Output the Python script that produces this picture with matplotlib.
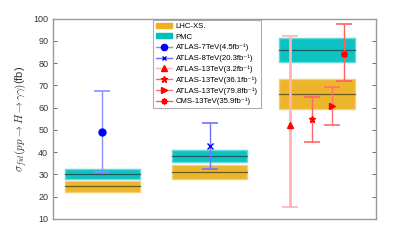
import matplotlib.pyplot as plt
from matplotlib.patches import Patch
from matplotlib.lines import Line2D

plt.rcParams['font.family'] = ['Liberation Sans', 'DejaVu Sans']
plt.rcParams['mathtext.fontset'] = 'cm'

# theory bands: (low, central, high) per energy group
groups = [1, 2, 3]
lhcxs_lo = [22.2, 28.0, 59.6]
lhcxs_mid = [24.7, 31.2, 66.3]
lhcxs_hi = [27.0, 34.2, 72.9]
pmc_lo = [28.0, 35.5, 80.7]
pmc_mid = [30.2, 38.4, 86.1]
pmc_hi = [32.4, 41.2, 91.5]

# measurements
labels = ['ATLAS-7TeV(4.5fb\u207b\u00b9)', 'ATLAS-8TeV(20.3fb\u207b\u00b9)',
          'ATLAS-13TeV(3.2fb\u207b\u00b9)', 'ATLAS-13TeV(36.1fb\u207b\u00b9)',
          'ATLAS-13TeV(79.8fb\u207b\u00b9)', 'CMS-13TeV(35.9fb\u207b\u00b9)']
meas_x = [1.0, 2.0, 2.75, 2.95, 3.14, 3.25]
meas_val = [49.0, 42.6, 52.4, 54.8, 60.7, 84.3]
meas_lo = [30.9, 32.3, 15.2, 44.5, 52.0, 72.2]
meas_hi = [67.3, 52.9, 92.3, 65.0, 69.1, 97.6]

colors = ['#0000ff', '#0000ff', '#ff0000', '#ff0000', '#ff0000', '#ff0000']
ecolors = ['#8c8cff', '#7070ff', '#ffb3b3', '#ff6666', '#ff7070', '#ff6060']
markers = ['o', 'x', '^', '*', '>', (8, 2, 0)]
elws = [1.0, 1.0, 2.0, 1.0, 1.0, 1.0]

fig = plt.figure(figsize=(4.15, 2.46), dpi=100)
ax = fig.add_axes([0.128, 0.110, 0.778, 0.814])

w = 0.35
for i, g in enumerate(groups):
    ax.fill_between([g - w, g + w], lhcxs_lo[i], lhcxs_hi[i], color='#edb120',
                    alpha=0.95, edgecolor='#f5cf70', linewidth=1)
    ax.plot([g - w, g + w], [lhcxs_mid[i]] * 2, color='#6b5a20', lw=0.9)
    ax.fill_between([g - w, g + w], pmc_lo[i], pmc_hi[i], color='#00bfbf',
                    alpha=0.95, edgecolor='#60dada', linewidth=1)
    ax.plot([g - w, g + w], [pmc_mid[i]] * 2, color='#1f5f5f', lw=0.9)

handles = [Patch(color='#edb120', label='LHC-XS.'), Patch(color='#00bfbf', label='PMC')]
for i in range(len(labels)):
    err = [[meas_val[i] - meas_lo[i]], [meas_hi[i] - meas_val[i]]]
    ax.errorbar([meas_x[i]], [meas_val[i]], yerr=err, fmt='none', ecolor=ecolors[i],
                elinewidth=elws[i], capsize=6, capthick=1.2)
    ms = 5 if markers[i] != 'x' else 4
    ax.plot([meas_x[i]], [meas_val[i]], linestyle='none', marker=markers[i],
            color=colors[i], markersize=ms, markeredgewidth=1)
    handles.append(Line2D([0], [0], color=ecolors[i], marker=markers[i],
                          markerfacecolor=colors[i], markeredgecolor=colors[i],
                          markersize=ms - 0.5, lw=1, label=labels[i]))

ax.set_xlim(0.54, 3.55)
ax.set_ylim(10, 100)
ax.set_yticks(range(10, 101, 10))
ax.set_xticks([])
ax.tick_params(axis='y', direction='in', right=True, length=3, labelsize=6.5,
               color='#555555', labelcolor='#333333', width=0.6)
for s in ax.spines.values():
    s.set_color('#999999')
    s.set_linewidth(1)
ax.set_ylabel(r'$\sigma_{fid}(pp\rightarrow H\rightarrow\gamma\gamma)$(fb)',
              fontsize=8, color='#333333', labelpad=3)

leg = ax.legend(handles=handles, loc='upper left', bbox_to_anchor=(0.308, 0.994),
                borderaxespad=0, fontsize=5.6, frameon=True, fancybox=False,
                handlelength=2.1, handleheight=0.6, handletextpad=0.45,
                labelspacing=0.42, borderpad=0.4)
leg.get_frame().set_edgecolor('#999999')
leg.get_frame().set_linewidth(0.8)

fig.savefig('out.png', dpi=100)
